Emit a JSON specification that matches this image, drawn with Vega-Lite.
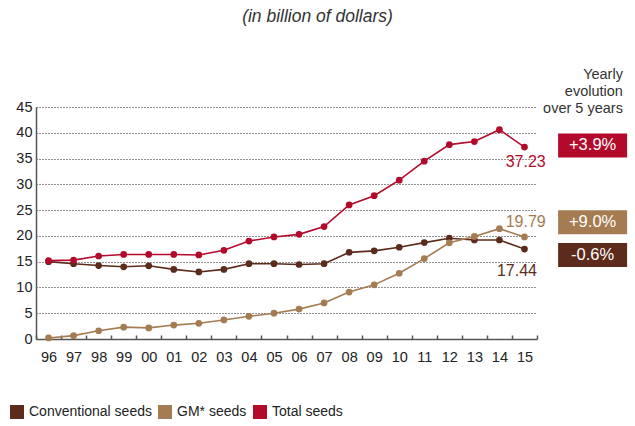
{
  "$schema": "https://vega.github.io/schema/vega-lite/v6.json",
  "width": 501,
  "height": 232,
  "autosize": {"type": "none"},
  "padding": {"left": 36, "top": 107, "right": 98, "bottom": 87},
  "background": "white",
  "title": {
    "text": "(in billion of dollars)",
    "font": "Liberation Sans",
    "fontStyle": "italic",
    "fontWeight": "normal",
    "fontSize": 17.5,
    "color": "#333",
    "anchor": "middle",
    "frame": "group",
    "dx": 31,
    "offset": 41
  },
  "config": {
    "view": {"stroke": null},
    "font": "Liberation Sans",
    "axisY": {
      "tickCount": 10,
      "labelOverlap": false,
      "ticks": false,
      "domainColor": "#555",
      "domainWidth": 1.5,
      "labelFont": "Liberation Sans",
      "labelFontSize": 14.5,
      "labelColor": "#222",
      "labelPadding": 4,
      "grid": true,
      "gridColor": "#222",
      "gridDash": [1, 2],
      "gridWidth": 1
    }
  },
  "datasets": {
    "seeds": [
      {"year": "96", "series": "Conventional seeds", "value": 15.0},
      {"year": "97", "series": "Conventional seeds", "value": 14.6},
      {"year": "98", "series": "Conventional seeds", "value": 14.25},
      {"year": "99", "series": "Conventional seeds", "value": 14.0},
      {"year": "00", "series": "Conventional seeds", "value": 14.2},
      {"year": "01", "series": "Conventional seeds", "value": 13.5},
      {"year": "02", "series": "Conventional seeds", "value": 13.0},
      {"year": "03", "series": "Conventional seeds", "value": 13.5},
      {"year": "04", "series": "Conventional seeds", "value": 14.6},
      {"year": "05", "series": "Conventional seeds", "value": 14.6},
      {"year": "06", "series": "Conventional seeds", "value": 14.45},
      {"year": "07", "series": "Conventional seeds", "value": 14.6},
      {"year": "08", "series": "Conventional seeds", "value": 16.8},
      {"year": "09", "series": "Conventional seeds", "value": 17.1},
      {"year": "10", "series": "Conventional seeds", "value": 17.8},
      {"year": "11", "series": "Conventional seeds", "value": 18.7},
      {"year": "12", "series": "Conventional seeds", "value": 19.55},
      {"year": "13", "series": "Conventional seeds", "value": 19.2},
      {"year": "14", "series": "Conventional seeds", "value": 19.2},
      {"year": "15", "series": "Conventional seeds", "value": 17.44},
      {"year": "96", "series": "GM* seeds", "value": 0.2},
      {"year": "97", "series": "GM* seeds", "value": 0.65},
      {"year": "98", "series": "GM* seeds", "value": 1.6},
      {"year": "99", "series": "GM* seeds", "value": 2.3},
      {"year": "00", "series": "GM* seeds", "value": 2.15},
      {"year": "01", "series": "GM* seeds", "value": 2.7},
      {"year": "02", "series": "GM* seeds", "value": 3.05},
      {"year": "03", "series": "GM* seeds", "value": 3.7},
      {"year": "04", "series": "GM* seeds", "value": 4.4},
      {"year": "05", "series": "GM* seeds", "value": 5.0},
      {"year": "06", "series": "GM* seeds", "value": 5.8},
      {"year": "07", "series": "GM* seeds", "value": 7.0},
      {"year": "08", "series": "GM* seeds", "value": 9.1},
      {"year": "09", "series": "GM* seeds", "value": 10.5},
      {"year": "10", "series": "GM* seeds", "value": 12.75},
      {"year": "11", "series": "GM* seeds", "value": 15.6},
      {"year": "12", "series": "GM* seeds", "value": 18.65},
      {"year": "13", "series": "GM* seeds", "value": 19.9},
      {"year": "14", "series": "GM* seeds", "value": 21.4},
      {"year": "15", "series": "GM* seeds", "value": 19.79},
      {"year": "96", "series": "Total seeds", "value": 15.2},
      {"year": "97", "series": "Total seeds", "value": 15.3},
      {"year": "98", "series": "Total seeds", "value": 16.1},
      {"year": "99", "series": "Total seeds", "value": 16.4},
      {"year": "00", "series": "Total seeds", "value": 16.4},
      {"year": "01", "series": "Total seeds", "value": 16.4},
      {"year": "02", "series": "Total seeds", "value": 16.3},
      {"year": "03", "series": "Total seeds", "value": 17.2},
      {"year": "04", "series": "Total seeds", "value": 19.0},
      {"year": "05", "series": "Total seeds", "value": 19.8},
      {"year": "06", "series": "Total seeds", "value": 20.3},
      {"year": "07", "series": "Total seeds", "value": 21.8},
      {"year": "08", "series": "Total seeds", "value": 26.0},
      {"year": "09", "series": "Total seeds", "value": 27.8},
      {"year": "10", "series": "Total seeds", "value": 30.8},
      {"year": "11", "series": "Total seeds", "value": 34.5},
      {"year": "12", "series": "Total seeds", "value": 37.7},
      {"year": "13", "series": "Total seeds", "value": 38.3},
      {"year": "14", "series": "Total seeds", "value": 40.6},
      {"year": "15", "series": "Total seeds", "value": 37.23}
    ],
    "endlabels": [
      {"series": "Total seeds", "label": "37.23", "u": 18.75, "v": 34.4},
      {"series": "GM* seeds", "label": "19.79", "u": 18.75, "v": 22.7},
      {"series": "Conventional seeds", "label": "17.44", "u": 18.4, "v": 13.1}
    ],
    "boxes": [
      {"series": "Total seeds", "label": "+3.9%", "u": 22.22, "v": 37.55},
      {"series": "GM* seeds", "label": "+9.0%", "u": 22.22, "v": 22.65},
      {"series": "Conventional seeds", "label": "-0.6%", "u": 22.22, "v": 16.28}
    ],
    "header": [
      {"line": "Yearly", "u": 23.43, "v": 51.3},
      {"line": "evolution", "u": 23.43, "v": 47.9},
      {"line": "over 5 years", "u": 23.43, "v": 44.7}
    ]
  },
  "layer": [
    {
      "data": {"name": "seeds"},
      "mark": {"type": "line", "strokeWidth": 1.6, "point": {"filled": true, "size": 45, "opacity": 1}},
      "encoding": {
        "x": {
          "field": "year",
          "type": "ordinal",
          "scale": {
            "type": "band",
            "paddingInner": 0,
            "paddingOuter": 0,
            "domain": ["96","97","98","99","00","01","02","03","04","05","06","07","08","09","10","11","12","13","14","15"]
          },
          "axis": {
            "title": null,
            "tickBand": "extent",
            "tickSize": -4,
            "tickColor": "#555",
            "tickWidth": 1.5,
            "domainColor": "#555",
            "domainWidth": 1.5,
            "labelAngle": 0,
            "labelFont": "Liberation Sans",
            "labelFontSize": 14.5,
            "labelColor": "#222",
            "labelPadding": 15,
            "grid": false
          }
        },
        "y": {
          "field": "value",
          "type": "quantitative",
          "scale": {"domain": [0, 45], "nice": false, "zero": true},
          "axis": {"title": null}
        },
        "color": {
          "field": "series",
          "type": "nominal",
          "scale": {
            "domain": ["Conventional seeds", "GM* seeds", "Total seeds"],
            "range": ["#5C2B1B", "#A57B51", "#B30A2C"]
          },
          "legend": {
            "orient": "none",
            "legendX": -26,
            "legendY": 298,
            "direction": "horizontal",
            "title": null,
            "symbolType": "square",
            "symbolSize": 196,
            "symbolStrokeWidth": 0,
            "labelFont": "Liberation Sans",
            "labelFontSize": 14,
            "labelColor": "#222",
            "labelOffset": 5,
            "columnPadding": 6,
            "padding": 0,
            "encode": {
              "symbols": {
                "update": {
                  "fill": {"scale": "color", "field": "value"},
                  "stroke": {"value": "transparent"},
                  "opacity": {"value": 1}
                }
              }
            }
          }
        }
      }
    },
    {
      "data": {"name": "endlabels"},
      "mark": {"type": "text", "font": "Liberation Sans", "fontSize": 16, "align": "left", "baseline": "middle", "clip": false},
      "encoding": {
        "x": {"field": "u", "type": "quantitative", "scale": {"domain": [0, 20], "nice": false, "zero": false}, "axis": null},
        "y": {"field": "v", "type": "quantitative", "axis": {"title": null}},
        "text": {"field": "label"},
        "color": {"field": "series", "type": "nominal", "legend": null}
      }
    },
    {
      "data": {"name": "boxes"},
      "mark": {"type": "rect", "width": 69, "height": 24, "clip": false},
      "encoding": {
        "x": {"field": "u", "type": "quantitative", "scale": {"domain": [0, 20], "nice": false, "zero": false}, "axis": null},
        "y": {"field": "v", "type": "quantitative", "axis": {"title": null}},
        "color": {"field": "series", "type": "nominal", "legend": null}
      }
    },
    {
      "data": {"name": "boxes"},
      "mark": {"type": "text", "font": "Liberation Sans", "fontSize": 16.5, "align": "center", "baseline": "middle", "color": "white", "clip": false},
      "encoding": {
        "x": {"field": "u", "type": "quantitative", "scale": {"domain": [0, 20], "nice": false, "zero": false}, "axis": null},
        "y": {"field": "v", "type": "quantitative", "axis": {"title": null}},
        "text": {"field": "label"}
      }
    },
    {
      "data": {"name": "header"},
      "mark": {"type": "text", "font": "Liberation Sans", "fontSize": 14.5, "align": "right", "baseline": "middle", "color": "#333", "clip": false},
      "encoding": {
        "x": {"field": "u", "type": "quantitative", "scale": {"domain": [0, 20], "nice": false, "zero": false}, "axis": null},
        "y": {"field": "v", "type": "quantitative", "axis": {"title": null}},
        "text": {"field": "line"}
      }
    }
  ],
  "resolve": {"scale": {"x": "independent"}}
}
